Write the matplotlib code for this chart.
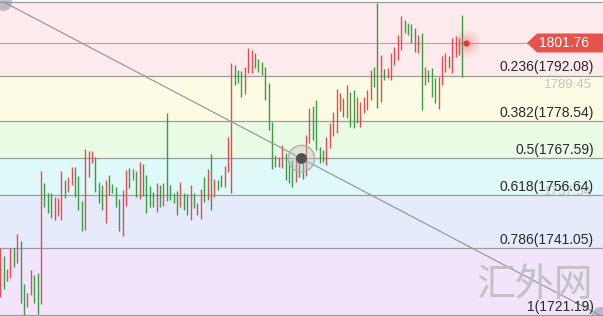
import numpy as np
import matplotlib
matplotlib.use("Agg")
import matplotlib.pyplot as plt
from matplotlib.patches import Polygon
from matplotlib.transforms import IdentityTransform

# ---------------- data ----------------
high = [1741.10, 1738.73, 1734.88, 1741.10, 1741.10, 1745.24, 1743.17, 1730.44, 1727.78, 1734.59,
        1733.11, 1733.70, 1763.88, 1760.33, 1757.37, 1757.37, 1756.19, 1755.89, 1763.88, 1761.22,
        1762.11, 1765.06, 1765.06, 1762.40, 1755.00, 1770.39, 1769.80, 1769.80, 1768.02, 1760.63,
        1759.74, 1761.22, 1762.70, 1760.03, 1759.15, 1755.60, 1758.26, 1764.18, 1764.77, 1764.47,
        1763.88, 1766.54, 1765.95, 1762.70, 1759.44, 1757.67, 1760.33, 1759.74, 1760.33, 1781.04,
        1759.74, 1757.37, 1757.96, 1760.63, 1757.37, 1757.08, 1759.74, 1757.37, 1754.41, 1758.55,
        1762.11, 1764.47, 1768.91, 1761.51, 1761.22, 1762.70, 1765.36, 1773.94, 1795.84, 1795.25,
        1793.77, 1793.47, 1794.65, 1800.28, 1799.68, 1798.80, 1797.02, 1796.13, 1794.65, 1789.92,
        1778.38, 1768.62, 1768.02, 1771.57, 1769.21, 1766.84, 1767.14, 1768.32, 1768.02, 1766.25,
        1774.53, 1782.52, 1783.11, 1784.89, 1770.98, 1770.09, 1773.94, 1778.08, 1781.34, 1788.14,
        1786.96, 1785.48, 1789.33, 1787.26, 1787.85, 1785.78, 1784.30, 1785.78, 1787.85, 1793.77,
        1794.65, 1813.59, 1798.21, 1794.06, 1794.36, 1798.80, 1800.57, 1804.12, 1809.75, 1808.56,
        1807.67, 1807.38, 1806.19, 1804.12, 1804.72, 1794.65, 1793.77, 1794.36, 1791.40, 1791.70,
        1797.91, 1798.80, 1797.91, 1803.24, 1803.83, 1803.24, 1810.04, 1802.00]
low = [1726.60, 1728.96, 1731.33, 1732.22, 1735.47, 1736.66, 1724.82, 1721.27, 1723.64, 1727.19,
       1724.82, 1721.57, 1724.53, 1753.23, 1751.45, 1749.97, 1749.38, 1750.57, 1749.38, 1755.89,
       1757.67, 1759.74, 1756.19, 1752.34, 1746.13, 1746.42, 1762.11, 1766.25, 1757.67, 1754.41,
       1752.34, 1748.49, 1756.78, 1757.37, 1753.23, 1746.13, 1744.65, 1753.52, 1758.85, 1761.22,
       1756.19, 1755.60, 1756.48, 1751.45, 1753.23, 1753.23, 1751.75, 1753.23, 1753.52, 1755.00,
       1755.30, 1754.41, 1750.86, 1753.23, 1752.34, 1750.86, 1749.38, 1752.93, 1750.86, 1749.68,
       1754.71, 1755.30, 1752.34, 1756.19, 1758.26, 1759.15, 1759.15, 1763.59, 1757.37, 1789.33,
       1789.92, 1785.78, 1786.67, 1792.88, 1792.88, 1794.36, 1793.18, 1792.29, 1784.89, 1776.01,
       1764.47, 1765.06, 1765.06, 1764.77, 1761.22, 1760.33, 1759.15, 1760.63, 1762.11, 1761.51,
       1762.40, 1772.17, 1773.05, 1770.09, 1766.25, 1766.54, 1765.66, 1770.69, 1774.24, 1775.13,
       1781.64, 1779.86, 1779.56, 1776.90, 1776.60, 1778.08, 1776.90, 1781.04, 1781.93, 1784.89,
       1788.74, 1782.52, 1784.30, 1790.81, 1791.40, 1790.81, 1795.25, 1796.73, 1799.68, 1804.72,
       1804.12, 1801.76, 1799.09, 1798.80, 1781.93, 1789.33, 1790.22, 1785.78, 1784.00, 1782.23,
       1789.33, 1793.18, 1794.36, 1792.88, 1797.61, 1798.21, 1791.70, 1801.50]
direction = ("RGRRGRGGRR" "GGRGGGRRRG" "RRGGGRRRGG" "GRGGGGRRGR" "GRGGGGRGRG"
             "GGGRGGRGRR" "GRGRGGRRRG" "GGRRRGGGGG" "GRGRGGGRGG" "RRGGGGRRRR"
             "RGRGGRRRRR" "GGRGRRRRRG" "GGGRGRGGGR" "RRGRRRG" "R")

fib_ratios = [0, 0.236, 0.382, 0.5, 0.618, 0.786, 1]
fib_ratio_text = ["0", "0.236", "0.382", "0.5", "0.618", "0.786", "1"]
fib_prices = [1813.99, 1792.08, 1778.54, 1767.59, 1756.64, 1741.05, 1721.19]
band_colors = ["#fdeaec", "#fefbe5", "#eafbe5", "#dff8f8", "#e6ebfc", "#f2e5fb"]
last_price = 1801.76
axis_labels = [1789.45, 1757.54]
fib_anchor_x = [0.8, 176.5]

# ---------------- figure ----------------
W, H = 603, 316
fig = plt.figure(figsize=(W / 100, H / 100), dpi=100)
ax = fig.add_axes([0, 0, 1, 1])
ax.set_axis_off()
ax.set_xlim(-0.088, 177.42)
ax.set_ylim(1720.98, 1814.48)

# bands
for i, c in enumerate(band_colors):
    ax.axhspan(fib_prices[i + 1], fib_prices[i], color=c, lw=0, zorder=0)

# level lines
for p in fib_prices:
    ax.axhline(p, color="#9c9c9c", lw=0.9, zorder=1)

# last price line
ax.axhline(last_price, color="#e89090", lw=0.8, zorder=1)

# bars
x = np.arange(len(high))
cols = ["#dd4f55" if d == "R" else "#3a9c45" for d in direction]
ax.vlines(x[:-1], np.array(low[:-1]), np.array(high[:-1]), colors=cols[:-1], lw=1.0, zorder=3)

# trend (fib anchor) line
ax.plot(fib_anchor_x, [fib_prices[0], fib_prices[-1]], color="#9a9a9a", lw=0.9, zorder=4)
ax.scatter([fib_anchor_x[0]], [fib_prices[0]], s=150, color="#8d96a6", alpha=0.55, lw=0, zorder=5)
ax.scatter([fib_anchor_x[1]], [fib_prices[-1]], s=150, color="#8d96a6", alpha=0.55, lw=0, zorder=5)
mx = np.mean(fib_anchor_x)
my = np.mean([fib_prices[0], fib_prices[-1]])
ax.scatter([mx], [my], s=360, facecolor=(0.75, 0.75, 0.75, 0.35), edgecolor="#b0b0b0", lw=1.0, zorder=5)
ax.scatter([mx], [my], s=60, color="#505050", lw=0, zorder=6)

# current price dot with glow
cx = x[-1]
for s, a in [(420, 0.06), (260, 0.08), (140, 0.10), (70, 0.12)]:
    ax.scatter([cx], [last_price], s=s, color="#f06060", alpha=a, lw=0, zorder=6)
ax.scatter([cx], [last_price], s=20, color="#e53535", lw=0, zorder=7)

# fib labels
for r, p in zip(fib_ratio_text[1:], fib_prices[1:]):
    ax.annotate(f"{r}({p:.2f})", xy=(594 / W, p), xycoords=("axes fraction", "data"),
                xytext=(0, 4.5), textcoords="offset pixels", ha="right", va="baseline",
                fontsize=10, family="Liberation Sans", color="#2a2a2a", zorder=8)

# faint axis labels
for p in axis_labels:
    ax.annotate(f"{p:.2f}", xy=(592 / W, p), xycoords=("axes fraction", "data"),
                ha="right", va="center", fontsize=9.5, family="Liberation Sans",
                color="#c2c2c2", zorder=7)

# price tag
fig.canvas.draw()
ypix = ax.transData.transform((0, last_price))[1]
hh = 9.5
tag = Polygon([(527, ypix), (537, ypix + hh), (W, ypix + hh), (W, ypix - hh), (537, ypix - hh)],
              closed=True, facecolor="#e5534b", edgecolor="none", transform=IdentityTransform(),
              zorder=9, clip_on=False)
ax.add_artist(tag)
ax.annotate(f"{last_price:.2f}", xy=(1.0, last_price), xycoords=("axes fraction", "data"),
            xytext=(-39, 0), textcoords="offset pixels", ha="center", va="center",
            fontsize=10, family="Liberation Sans", color="white", zorder=10)

# watermark
fig.text(593 / W, 1 - 285 / H, "汇外网", ha="right", va="center", fontsize=28,
         family=["Noto Sans CJK SC", "DejaVu Sans"], color="#bdbdbd", alpha=0.9, zorder=10)

fig.savefig("out.png", dpi=100)
